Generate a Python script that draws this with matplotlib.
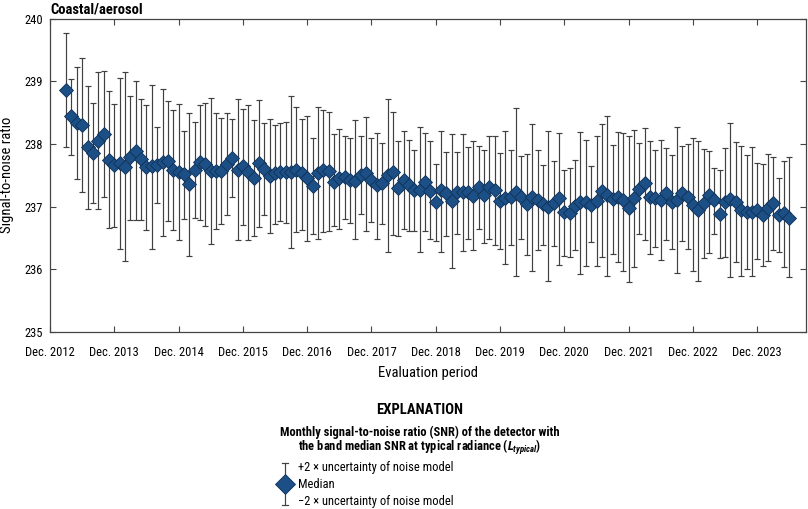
import numpy as np
import pandas as pd
import matplotlib
matplotlib.use('Agg')
import matplotlib.pyplot as plt
from matplotlib.lines import Line2D
from matplotlib import font_manager as fm

# ---- pick a narrow font if one is installed ----
_cond = {'condensed', 'semi-condensed', 'extra-condensed', 'ultra-condensed', 'narrow'}
_font_name, _stretch, _scale = None, 'normal', 1.0
_entries = fm.fontManager.ttflist
for fam in ['Liberation Sans Narrow', 'Roboto Condensed', 'Open Sans Condensed']:
    if any(f.name == fam for f in _entries):
        _font_name, _stretch = fam, 'normal'
        break
if _font_name is None:
    for fam in ['Noto Sans', 'DejaVu Sans', 'Open Sans', 'Roboto', 'Inter']:
        hits = [f for f in _entries if f.name == fam and str(f.stretch) in _cond]
        if hits:
            _font_name, _stretch = fam, 'condensed'
            break
if _font_name is None:
    _font_name, _stretch, _scale = 'Roboto', 'normal', 0.88

plt.rcParams['font.family'] = [_font_name, 'DejaVu Sans']
plt.rcParams['font.stretch'] = _stretch
plt.rcParams['mathtext.fontset'] = 'custom'
plt.rcParams['mathtext.it'] = _font_name + ':italic:bold'

def fs(v):
    return v * _scale

start_month = '2013-03'

median = [238.86, 238.44, 238.34, 238.30, 237.95, 237.85, 238.05, 238.16, 237.75, 237.67,
          237.70, 237.63, 237.79, 237.89, 237.76, 237.63, 237.64, 237.67, 237.71, 237.73,
          237.59, 237.55, 237.52, 237.36, 237.59, 237.71, 237.68, 237.57, 237.56, 237.56,
          237.68, 237.78, 237.59, 237.64, 237.55, 237.46, 237.70, 237.60, 237.49, 237.53,
          237.55, 237.55, 237.55, 237.59, 237.54, 237.46, 237.33, 237.53, 237.58, 237.56,
          237.40, 237.45, 237.48, 237.42, 237.41, 237.51, 237.54, 237.43, 237.35, 237.37,
          237.50, 237.55, 237.29, 237.43, 237.35, 237.26, 237.27, 237.40, 237.25, 237.07,
          237.26, 237.21, 237.09, 237.23, 237.23, 237.23, 237.17, 237.31, 237.18, 237.32,
          237.26, 237.09, 237.13, 237.15, 237.24, 237.15, 237.04, 237.16, 237.11, 237.04,
          237.00, 237.06, 237.13, 236.92, 236.90, 237.01, 237.08, 237.07, 237.03, 237.09,
          237.25, 237.19, 237.12, 237.15, 237.10, 236.98, 237.13, 237.28, 237.38, 237.15,
          237.13, 237.10, 237.21, 237.08, 237.11, 237.22, 237.16, 237.03, 236.94, 237.06,
          237.19, 237.10, 236.88, 237.07, 237.12, 237.07, 236.94, 236.91, 236.92, 236.95,
          236.87, 236.98, 237.06, 236.86, 236.89, 236.82]

upper = [239.77, 239.04, 239.23, 239.37, 238.92, 238.66, 239.15, 239.17, 238.84, 238.64,
         239.05, 239.14, 238.77, 239.01, 238.71, 238.62, 238.94, 238.27, 238.87, 238.68,
         238.54, 238.63, 238.21, 238.50, 238.35, 238.62, 238.66, 238.73, 238.50, 238.41,
         238.49, 238.40, 238.72, 238.56, 238.62, 238.38, 238.70, 238.33, 238.40, 238.30,
         238.33, 238.35, 238.77, 238.59, 238.40, 238.44, 238.09, 238.59, 238.54, 238.51,
         238.15, 238.24, 238.13, 238.10, 238.38, 238.12, 238.43, 238.09, 238.18, 238.01,
         238.71, 238.51, 238.04, 238.21, 238.07, 237.90, 238.27, 238.17, 238.04, 237.68,
         238.20, 237.87, 238.16, 237.87, 238.15, 237.95, 238.04, 237.96, 237.90, 238.12,
         238.12, 237.85, 238.20, 237.91, 238.58, 237.81, 237.84, 238.31, 237.90, 237.67,
         238.21, 237.73, 238.18, 237.59, 237.61, 237.74, 238.19, 238.07, 237.64, 238.12,
         238.31, 238.45, 237.98, 238.19, 238.18, 238.12, 238.22, 238.01, 238.26, 238.05,
         237.91, 238.07, 237.93, 237.82, 238.27, 237.97, 238.00, 238.09, 238.04, 237.92,
         237.88, 237.62, 237.59, 237.93, 238.33, 238.03, 237.96, 237.83, 237.95, 237.70,
         237.68, 237.84, 237.79, 237.46, 237.72, 237.79]

lower = [237.95, 237.82, 237.44, 237.23, 236.96, 237.05, 236.96, 237.15, 236.66, 236.67,
         236.32, 236.13, 236.78, 236.78, 236.79, 236.63, 236.33, 237.05, 236.53, 236.77,
         236.63, 236.46, 236.81, 236.21, 236.82, 236.78, 236.69, 236.40, 236.64, 236.72,
         236.87, 237.15, 236.46, 236.70, 236.47, 236.53, 236.67, 236.86, 236.58, 236.72,
         236.77, 236.74, 236.34, 236.59, 236.63, 236.45, 236.57, 236.48, 236.59, 236.61,
         236.69, 236.65, 236.80, 236.74, 236.48, 236.88, 236.61, 236.75, 236.49, 236.72,
         236.28, 236.55, 236.53, 236.64, 236.61, 236.61, 236.28, 236.61, 236.48, 236.45,
         236.28, 236.53, 236.02, 236.57, 236.29, 236.48, 236.30, 236.64, 236.42, 236.48,
         236.39, 236.33, 236.09, 236.39, 235.89, 236.49, 236.23, 235.97, 236.30, 236.39,
         235.81, 236.37, 236.07, 236.21, 236.19, 236.31, 235.93, 236.05, 236.43, 236.06,
         236.19, 235.89, 236.25, 236.11, 235.98, 235.80, 236.03, 236.56, 236.47, 236.24,
         236.35, 236.15, 236.46, 236.33, 235.94, 236.45, 236.32, 235.98, 235.82, 236.18,
         236.26, 236.57, 236.18, 236.19, 235.87, 236.11, 235.89, 236.00, 235.89, 236.17,
         236.05, 236.13, 236.30, 236.28, 236.03, 235.87]

tick_labels = ['Dec. 2012', 'Dec. 2013', 'Dec. 2014', 'Dec. 2015', 'Dec. 2016', 'Dec. 2017',
               'Dec. 2018', 'Dec. 2019', 'Dec. 2020', 'Dec. 2021', 'Dec. 2022', 'Dec. 2023']
y_ticks = [235, 236, 237, 238, 239, 240]

# months since Dec. 2012
months = pd.date_range(start_month, periods=len(median), freq='MS')
x = np.array((months.year - 2012) * 12 + (months.month - 12), dtype=float)
med = np.array(median)
yerr = np.vstack([med - np.array(lower), np.array(upper) - med])

FILL = '#1c4f85'
EDGE = '#0f3257'
BAR = '#404040'

fig = plt.figure(figsize=(8.08, 5.09), dpi=100)
ax = fig.add_axes([50 / 808, 1 - 332 / 509, 756 / 808, (332 - 18.5) / 509])

ax.errorbar(x, med, yerr=yerr, fmt='none', ecolor=BAR, elinewidth=0.85,
            capsize=2.0, capthick=0.85, zorder=2)
ax.plot(x, med, linestyle='none', marker='D', markersize=7.6,
        markerfacecolor=FILL, markeredgecolor=EDGE, markeredgewidth=0.6, zorder=3)

ax.set_xlim(0, 141.1)
ax.set_ylim(235, 240)
ax.set_xticks(np.arange(len(tick_labels)) * 12)
ax.set_xticklabels(tick_labels)
ax.set_yticks(y_ticks)
ax.tick_params(direction='in', top=True, right=True, length=4, width=0.8,
               labelsize=fs(9), colors='#444444', labelcolor='black')
ax.tick_params(axis='x', pad=10)
ax.tick_params(axis='y', pad=5)
for s in ax.spines.values():
    s.set_linewidth(0.9)
    s.set_color('#444444')

ax.set_xlabel('Evaluation period', fontsize=fs(10.5), labelpad=5)
ax.set_ylabel('Signal-to-noise ratio', fontsize=fs(10.5))
ax.yaxis.set_label_coords(-36 / 756, 0.5)

fig.text(50 / 808, 1 - 10 / 509, 'Coastal/aerosol', fontsize=fs(10.5), fontweight='bold',
         ha='left', va='center')

# Explanation block
fig.text(420 / 808, 1 - 410 / 509, 'EXPLANATION', fontsize=fs(10.5), fontweight='bold',
         ha='center', va='center')
fig.text(420 / 808, 1 - 432 / 509,
         'Monthly signal-to-noise ratio (SNR) of the detector with', fontsize=fs(9),
         fontweight='bold', ha='center', va='center')
fig.text(420 / 808, 1 - 447 / 509,
         r'the band median SNR at typical radiance ($L_{typical}$)', fontsize=fs(9),
         fontweight='bold', ha='center', va='center')

lx = 285 / 808
y_top = 1 - 467 / 509
y_mid = 1 - 484 / 509
y_bot = 1 - 501 / 509
bar_top = 1 - 463 / 509
bar_bot = 1 - 505 / 509
fig.add_artist(Line2D([lx, lx], [bar_bot, bar_top], color=BAR, lw=0.85, transform=fig.transFigure))
cap = 3 / 808
for yy in (bar_top, bar_bot):
    fig.add_artist(Line2D([lx - cap, lx + cap], [yy, yy], color=BAR, lw=0.85,
                          transform=fig.transFigure))
fig.add_artist(Line2D([lx], [y_mid], marker='D', markersize=10, markerfacecolor=FILL,
                      markeredgecolor=EDGE, markeredgewidth=0.6, linestyle='none',
                      transform=fig.transFigure))
tx = 298 / 808
fig.text(tx, y_top, '+2 \u00d7 uncertainty of noise model', fontsize=fs(9), ha='left', va='center')
fig.text(tx, y_mid, 'Median', fontsize=fs(9), ha='left', va='center')
fig.text(tx, y_bot, '\u22122 \u00d7 uncertainty of noise model', fontsize=fs(9), ha='left', va='center')

fig.savefig('out.png', dpi=100)
